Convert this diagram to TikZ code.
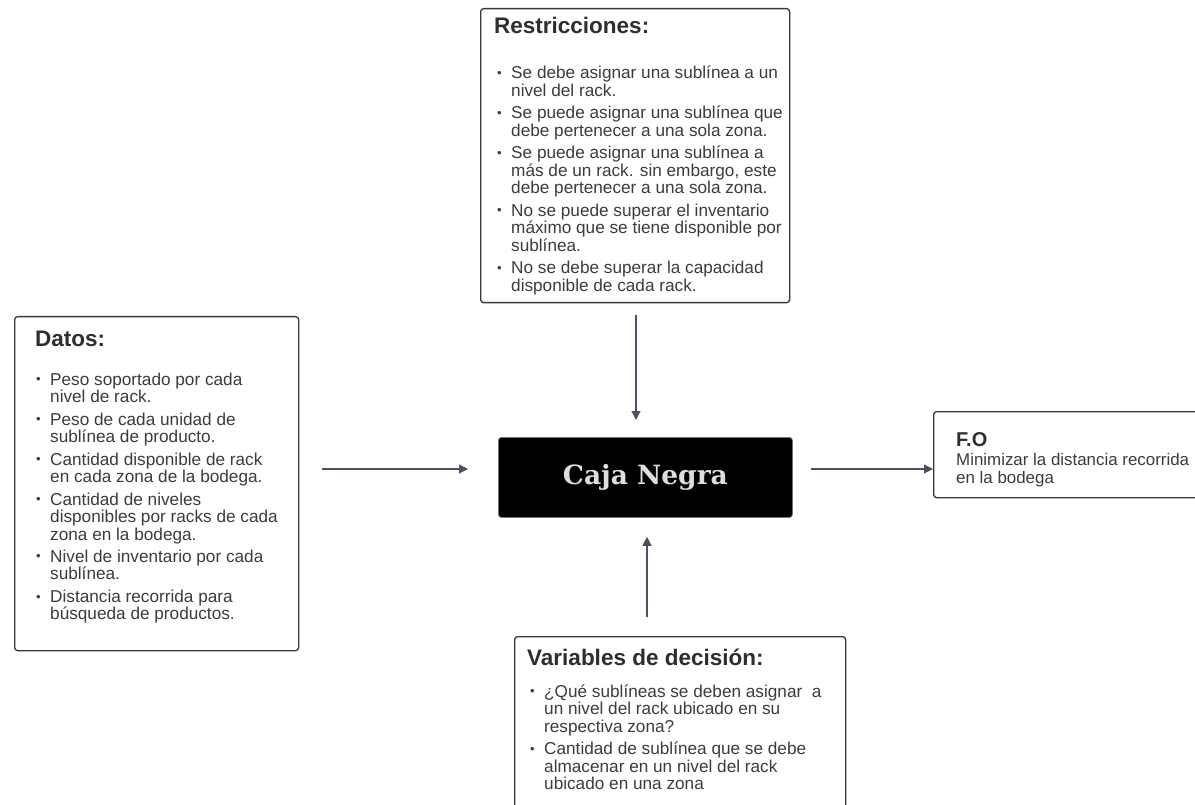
\documentclass[tikz,border=0pt]{standalone}
\usepackage{fontspec}
\setmainfont{Liberation Sans}
\newfontfamily\cajafont{DejaVu Serif}
\usetikzlibrary{arrows.meta}

\definecolor{edgegray}{HTML}{383838}
\definecolor{txtgray}{HTML}{3C3C3C}
\definecolor{headgray}{HTML}{2E2E2E}
\definecolor{arrowgray}{HTML}{4A5160}

% body text and headings
\newcommand{\bodyfont}{\fontsize{17.2}{17.5}\selectfont}
\newcommand{\headfont}{\fontsize{22.5}{24}\selectfont\bfseries}
% one bulleted entry, lines broken by hand (\\ stays inside the paragraph)
\newcommand{\bentry}[1]{\par\noindent\hangindent=14pt\hangafter=1%
  \makebox[14pt][l]{\raisebox{1.5pt}{\fontsize{13}{13}\selectfont •}}#1\par\vspace{5pt}}

\tikzset{
  panel/.style={draw=edgegray, line width=1.3pt, rounded corners=3pt,
    fill=white, anchor=north west, inner sep=0pt},
  heading/.style={anchor=base west, inner sep=0pt, text=headgray, font=\headfont},
  bodytext/.style={anchor=base west, inner sep=0pt, text=txtgray},
  arr/.style={draw=arrowgray, line width=1.1pt,
    -{Triangle[length=9pt,width=9pt]}},
}

\begin{document}
\begin{tikzpicture}[x=1pt,y=-1pt]
\useasboundingbox (0,0) rectangle (1195,805);

% ---- Restricciones ----
\node[panel, minimum width=309pt, minimum height=294pt] (restr) at (480,8) {};
\node[heading] (restrhead) at (494,34) {Restricciones:};
\node[bodytext] (restrbody) at (497,79) {\begin{minipage}[t]{300pt}\bodyfont
\bentry{Se debe asignar una sublínea a un\\ nivel del rack.}
\bentry{Se puede asignar una sublínea que\\ debe pertenecer a una sola zona.}
\bentry{Se puede asignar una sublínea a\\ más de un rack. sin embargo, este\\ debe pertenecer a una sola zona.}
\bentry{No se puede superar el inventario\\ máximo que se tiene disponible por\\ sublínea.}
\bentry{No se debe superar la capacidad\\ disponible de cada rack.}
\end{minipage}};

% ---- Datos ----
\node[panel, minimum width=284pt, minimum height=334pt] (datos) at (14,316) {};
\node[heading] (datoshead) at (35,346) {Datos:};
\node[bodytext] (datosbody) at (36,385) {\begin{minipage}[t]{300pt}\bodyfont
\bentry{Peso soportado por cada\\ nivel de rack.}
\bentry{Peso de cada unidad de\\ sublínea de producto.}
\bentry{Cantidad disponible de rack\\ en cada zona de la bodega.}
\bentry{Cantidad de niveles\\ disponibles por racks de cada\\ zona en la bodega.}
\bentry{Nivel de inventario por cada\\ sublínea.}
\bentry{Distancia recorrida para\\ búsqueda de productos.}
\end{minipage}};

% ---- Caja Negra ----
\node[draw=edgegray!70, line width=0.8pt, fill=black, rounded corners=3pt,
  minimum width=294pt, minimum height=80pt, anchor=north west,
  text=white!87!black, font=\cajafont\bfseries\fontsize{26.5}{27}\selectfont] (caja) at (498,437) {Caja Negra};

% ---- F.O ----
\node[panel, minimum width=280pt, minimum height=86pt] (fo) at (933,411) {};
\node[anchor=base west, inner sep=0pt, text=headgray,
  font=\fontsize{20}{22}\selectfont\bfseries] (fohead) at (956,446) {F.O};
\node[bodytext] (fobody) at (956,465) {\begin{minipage}[t]{300pt}\fontsize{16.9}{17.5}\selectfont
Minimizar la distancia recorrida\\[1pt] en la bodega
\end{minipage}};

% ---- Variables de decisión ----
\node[panel, minimum width=331pt, minimum height=190pt] (vars) at (514,636) {};
\node[heading] (varshead) at (527,665) {Variables de decisión:};
\node[bodytext] (varsbody) at (530,697) {\begin{minipage}[t]{320pt}\bodyfont
\bentry{¿Qué sublíneas se deben asignar\ \ a\\ un nivel del rack ubicado en su\\ respectiva zona?}
\bentry{Cantidad de sublínea que se debe\\ almacenar en un nivel del rack\\ ubicado en una zona}
\end{minipage}};

% ---- connectors ----
\draw[arr, shorten <=23pt, shorten >=30pt] (datos.east |- 0,469) -- (caja.west |- 0,469);
\draw[arr, shorten <=12pt, shorten >=17pt] (636,0 |- restr.south) -- (636,0 |- caja.north);
\draw[arr, shorten <=19pt, shorten >=19pt] (647,0 |- vars.north) -- (647,0 |- caja.south);
\draw[arr, shorten <=18pt] (caja.east |- 0,469) -- (fo.west |- 0,469);
\end{tikzpicture}
\end{document}
